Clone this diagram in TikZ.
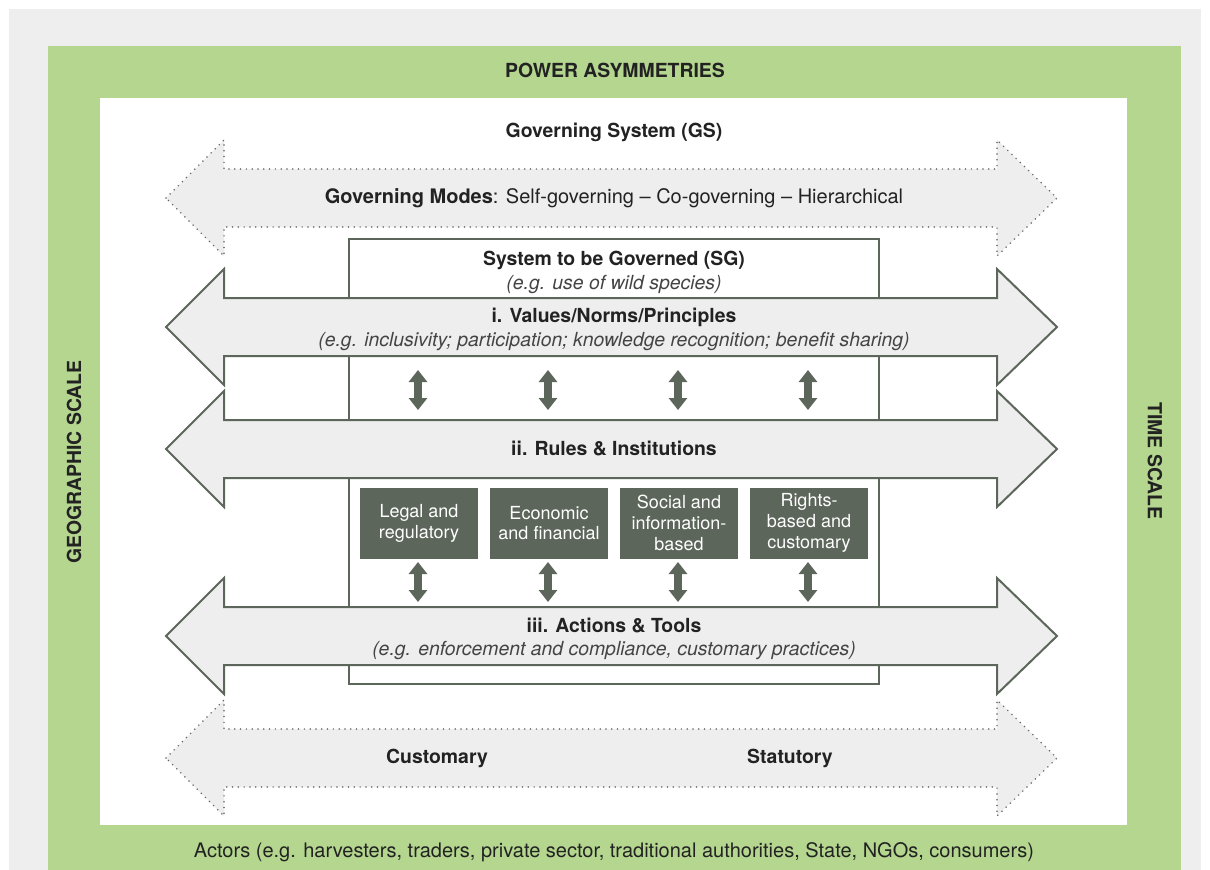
\documentclass[tikz,border=0pt]{standalone}
\usepackage{fontspec}
\setmainfont{TeX Gyre Heros}
\usetikzlibrary{arrows.meta}
\definecolor{bggray}{HTML}{EEEEEE}
\definecolor{frgreen}{HTML}{B4D68E}
\definecolor{dkgreen}{HTML}{5C665A}
\definecolor{txt}{HTML}{222222}
\definecolor{itx}{HTML}{444444}
\definecolor{dotc}{HTML}{666666}
\newcommand\bigarw[2]{%
  \path[#1] (166,#2) -- (224,{#2-58}) -- (224,{#2-29}) -- (997,{#2-29}) -- (997,{#2-58})
    -- (1057,#2) -- (997,{#2+58}) -- (997,{#2+29}) -- (224,{#2+29}) -- (224,{#2+58}) -- cycle;}
\tikzset{
  solidarrow/.style={fill=bggray, draw=dkgreen, line width=2pt, line join=miter},
  dotarrow/.style={fill=bggray, draw=dotc, line width=1.7pt, line cap=round, dash pattern=on 0pt off 5.8pt},
  lbl/.style={anchor=base, inner sep=0pt, text=txt, font=\fontsize{20}{23}\selectfont},
  itl/.style={lbl, text=itx, font=\fontsize{19.4}{23}\selectfont\itshape},
  bld/.style={lbl, font=\fontsize{19.4}{23}\selectfont\bfseries},
  dkbox/.style={fill=dkgreen, text=white, minimum width=118pt, minimum height=71pt, inner sep=0pt,
    align=center, font=\fontsize{18}{20.8}\selectfont},
  dblarw/.style={draw=dkgreen, line width=8pt,
    {Triangle[width=18pt,length=12pt]}-{Triangle[width=18pt,length=12pt]}},
  sgbox/.style={draw=dkgreen, line width=2pt, fill=white}
}
\begin{document}
\begin{tikzpicture}[x=1pt,y=-1pt]
\useasboundingbox (0,0) rectangle (1210,870);
\fill[bggray] (9,9) rectangle (1201,870);
\fill[frgreen] (48,46) rectangle (1181,870);
\fill[white] (100,98) rectangle (1127,825);
% system to be governed frame
\path[sgbox] (349,239) rectangle (879,684);
% big arrows
\bigarw{dotarrow}{198}
\bigarw{solidarrow}{327}
\bigarw{solidarrow}{449}
\bigarw{solidarrow}{636}
\bigarw{dotarrow}{758}
% texts
\node[bld] (pa) at (615,77) {POWER ASYMMETRIES};
\node[bld] (gs) at (614,137) {Governing System (GS)};
\node[lbl] (gm) at (614,203) {\textbf{Governing Modes}: Self-governing – Co-governing – Hierarchical};
\node[bld] (sg) at (614,265) {System to be Governed (SG)};
\node[itl] (sge) at (614,289) {(e.g. use of wild species)};
\node[bld] (v) at (614,322) {i. Values/Norms/Principles};
\node[itl] (ve) at (614,346) {(e.g. inclusivity; participation; knowledge recognition; benefit sharing)};
\node[bld] (r) at (614,455) {ii. Rules \& Institutions};
\node[bld] (a) at (614,632) {iii. Actions \& Tools};
\node[itl] (ae) at (614,655) {(e.g. enforcement and compliance, customary practices)};
\node[bld] (cu) at (437,763) {Customary};
\node[bld] (st) at (790,763) {Statutory};
\node[lbl] (ac) at (614,857) {Actors (e.g. harvesters, traders, private sector, traditional authorities, State, NGOs, consumers)};
\node[bld, anchor=center, rotate=90] (geo) at (74,462) {GEOGRAPHIC SCALE};
\node[bld, anchor=center, rotate=-90] (ts) at (1155,461) {TIME SCALE};
% dark boxes
\node[dkbox] (b1) at (419,523) {Legal and\\regulatory};
\node[dkbox] (b2) at (549,523) {Economic\\and financial};
\node[dkbox] (b3) at (679,523) {Social and\\information-\\based};
\node[dkbox] (b4) at (809,523) {Rights-\\based and\\customary};
% double arrows
\foreach \i/\x in {1/418,2/548,3/678,4/808}{
  \coordinate (ut\i) at (\x,370);
  \coordinate (ub\i) at (\x,410);
  \coordinate (lt\i) at (\x,562);
  \coordinate (lb\i) at (\x,602);
  \draw[dblarw] (ut\i) -- (ub\i);
  \draw[dblarw] (lt\i) -- (lb\i);
}
\end{tikzpicture}
\end{document}
